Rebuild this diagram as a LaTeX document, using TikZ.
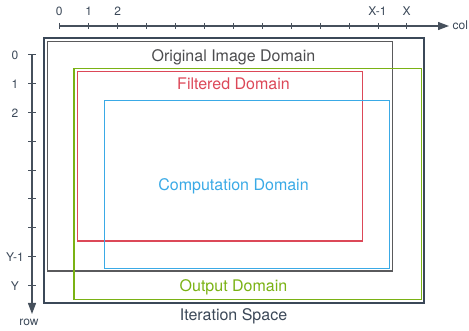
\documentclass[tikz,border=0pt]{standalone}
\usepackage{fontspec}
\setmainfont{TeX Gyre Heros}
\usetikzlibrary{arrows.meta}
\definecolor{iterslate}{RGB}{59,72,88}
\definecolor{origgray}{RGB}{90,90,92}
\definecolor{outgreen}{RGB}{122,178,20}
\definecolor{filtred}{RGB}{220,72,88}
\definecolor{compblue}{RGB}{58,170,230}
\definecolor{axisgray}{RGB}{70,80,92}

\begin{document}
\begin{tikzpicture}[x=1pt, y=-1pt,
        domainbox/.style={line width=1.2pt},
        domlabel/.style={anchor=base, inner sep=0pt, font=\fontsize{16}{18}\selectfont},
        axislabel/.style={anchor=base, inner sep=0pt, text=iterslate, font=\fontsize{12}{14}\selectfont},
        axisline/.style={axisgray, line width=1.2pt, -{Triangle[length=11pt, width=8pt]}},
        tickline/.style={axisgray, line width=0.9pt}
    ]
        \useasboundingbox (0,0) rectangle (469,331);

        % axes
        \coordinate (colstart) at (59.3,26);
        \coordinate (colend) at (449,26);
        \coordinate (rowstart) at (32,54.3);
        \coordinate (rowend) at (32,314);
        \draw[axisline] (colstart) -- (colend);
        \draw[axisline] (rowstart) -- (rowend);
        \foreach \i in {0,...,12}
            \draw[tickline] (59.3+28.97*\i,23) -- ++(0,6);
        \foreach \j in {0,...,8}
            \draw[tickline] (28,54.3+28.92*\j) -- ++(8,0);

        \node[axislabel] (c0) at (59.3,15.7) {0};
        \node[axislabel] (c1) at (88.8,15.7) {1};
        \node[axislabel] (c2) at (117.8,15.7) {2};
        \node[axislabel] (cxm) at (377.5,15.7) {X-1};
        \node[axislabel] (cx) at (406.5,15.7) {X};
        \node[axislabel, anchor=base west] (col) at (452.5,30) {col};

        \node[axislabel] (r0) at (15,60) {0};
        \node[axislabel] (r1) at (15,88.6) {1};
        \node[axislabel] (r2) at (15,117.4) {2};
        \node[axislabel] (rym) at (15,261.7) {Y-1};
        \node[axislabel] (ry) at (15,291) {Y};
        \node[axislabel] (row) at (29,326) {row};

        % domains
        \draw[iterslate, line width=2pt] (43.7,38.3) rectangle (424.3,303.3);
        \draw[domainbox, origgray] (47.3,41.3) rectangle (392.7,271);
        \draw[domainbox, outgreen] (74,68.3) rectangle (421.7,299.3);
        \draw[domainbox, filtred] (77.3,71.3) rectangle (362.3,241);
        \draw[domainbox, compblue] (104.7,100.3) rectangle (389.3,268.3);

        \node[domlabel, text=iterslate] (iter) at (233.5,320) {Iteration Space};
        \node[domlabel, text=origgray!85!black] (orig) at (233.5,61.5) {Original Image Domain};
        \node[domlabel, text=filtred] (filt) at (233.5,89.3) {Filtered Domain};
        \node[domlabel, text=compblue] (comp) at (233.5,190.5) {Computation Domain};
        \node[domlabel, text=outgreen] (outp) at (233.5,291.5) {Output Domain};
    \end{tikzpicture}
\end{document}
